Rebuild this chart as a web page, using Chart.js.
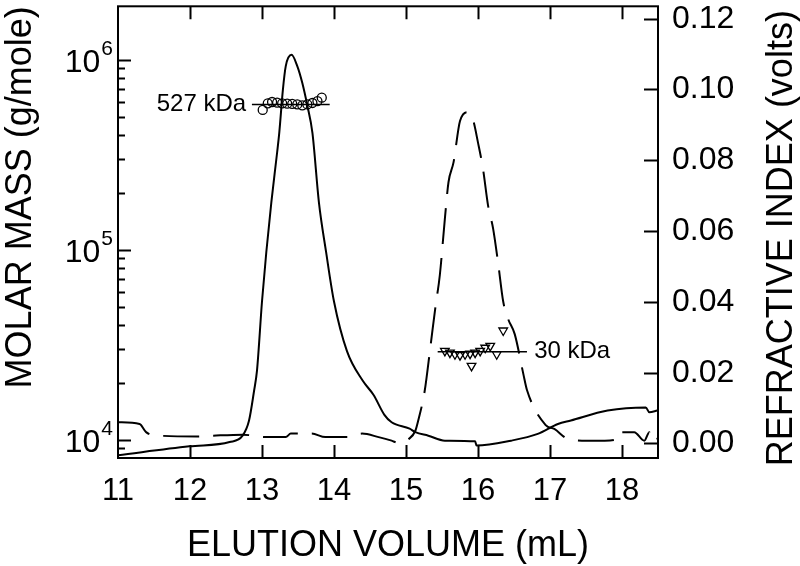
<!DOCTYPE html>
<html>
<head>
<meta charset="utf-8">
<script src="https://cdn.jsdelivr.net/npm/chart.js@4.4.1/dist/chart.umd.min.js"></script>
<style>
  html, body { margin: 0; padding: 0; background: #fff; }
  #wrap { width: 800px; height: 566px; }
</style>
</head>
<body>
<div id="wrap"><canvas id="secChart" width="800" height="566"></canvas></div>
<script>
// refractive index traces (volts) vs elution volume (mL)
const solidVolume = [11.00, 11.99, 12.55, 12.73, 12.82, 12.89, 12.93, 13.00, 13.06, 13.13, 13.21, 13.24, 13.29, 13.33, 13.41,
    13.49, 13.56, 13.63, 13.70, 13.79, 13.89, 14.00, 14.18, 14.40, 14.55, 14.70, 14.80, 15.05, 15.13, 15.31, 15.54,
    15.96, 15.98, 16.46, 16.83, 17.11, 17.29, 17.80, 18.33, 18.38, 18.49];
const solidRI = [-0.0033, -0.0008, 0.0004, 0.0022, 0.0065, 0.0149, 0.0205, 0.0401, 0.0541, 0.0682, 0.0822, 0.0878, 0.0999, 0.1066, 0.1098,
    0.1066, 0.1018, 0.0954, 0.0878, 0.0682, 0.0541, 0.0401, 0.0261, 0.0177, 0.0137, 0.0081, 0.0060, 0.0042, 0.0032, 0.0022, 0.0008,
    0.0006, -0.0006, 0.0008, 0.0027, 0.0055, 0.0065, 0.0093, 0.0102, 0.0088, 0.0093];

const dashVolume = [11.00, 11.30, 11.39, 11.58, 12.10, 12.31, 12.73, 13.05, 13.33, 13.40, 13.69, 13.88, 14.20, 14.39, 14.62,
    14.80, 14.90, 15.04, 15.13, 15.17, 15.26, 15.34, 15.41, 15.47, 15.54, 15.59, 15.66, 15.75, 15.86, 15.93, 16.00,
    16.07, 16.14, 16.21, 16.28, 16.35, 16.42, 16.51, 16.63, 16.68, 16.94, 17.06, 17.25, 17.52, 17.76, 17.94, 17.96,
    18.17, 18.31, 18.38, 18.40, 18.50];
const dashRI = [0.0060, 0.0055, 0.0032, 0.0022, 0.0020, 0.0022, 0.0025, 0.0018, 0.0018, 0.0028, 0.0028, 0.0018, 0.0018, 0.0028, 0.0018,
    0.0008, 0.0001, 0.0013, 0.0036, 0.0065, 0.0149, 0.0275, 0.0387, 0.0476, 0.0635, 0.0738, 0.0794, 0.0911, 0.0936, 0.0915, 0.0850,
    0.0775, 0.0672, 0.0607, 0.0509, 0.0401, 0.0351, 0.0309, 0.0196, 0.0151, 0.0052, 0.0041, 0.0013, 0.0008, 0.0008, 0.0013, 0.0032,
    0.0032, 0.0008, 0.0032, 0.0008, 0.0014];

// molar mass points (g/mole)
const bigVolume = [13.01, 13.08, 13.14, 13.21, 13.28, 13.35, 13.42, 13.49, 13.56, 13.63, 13.70, 13.77, 13.83];
const bigMass = [544000, 589000, 599000, 594000, 589000, 587000, 585000, 582000, 575000, 582000, 592000, 606000, 631000];
const smallVolume = [15.54, 15.61, 15.68, 15.75, 15.82, 15.89, 15.91, 15.96, 16.03, 16.10, 16.17, 16.26, 16.35];
const smallMass = [29350, 28750, 28200, 27870, 28200, 28400, 24500, 28750, 29350, 30500, 31200, 28200, 37600];

// average lines through each set
const bigFitVolume = [12.86, 13.94];
const bigFitMass = [582000, 582000];
const smallFitVolume = [15.44, 16.68];
const smallFitMass = [29100, 29100];

const bigLabel = '527 kDa';
const smallLabel = '30 kDa';

const xTicks = [11, 12, 13, 14, 15, 16, 17, 18];
const riTicks = [0, 0.02, 0.04, 0.06, 0.08, 0.10, 0.12];
const massDecades = [4, 5, 6];

const FONT = '"Liberation Sans", Arial, Helvetica, sans-serif';

function pairs(xs, ys) {
    return xs.map((x, i) => ({ x: x, y: ys[i] }));
}

// inward tick marks, frame, log labels with superscripts, right title, kDa notes
const decorPlugin = {
    id: 'decor',
    afterDraw(chart) {
        const ctx = chart.ctx;
        const area = chart.chartArea;
        const xs = chart.scales.x;
        const ym = chart.scales.y;
        const yr = chart.scales.y2;
        ctx.save();
        ctx.strokeStyle = '#000';
        ctx.lineWidth = 2;
        ctx.strokeRect(area.left, area.top, area.right - area.left, area.bottom - area.top);

        ctx.beginPath();
        xTicks.forEach(v => {
            const px = Math.round(xs.getPixelForValue(v)) + 0.5;
            if (px <= area.left + 1) return;
            ctx.moveTo(px, area.bottom);
            ctx.lineTo(px, area.bottom - 13);
            ctx.moveTo(px, area.top);
            ctx.lineTo(px, area.top + 13);
        });
        riTicks.forEach(v => {
            const py = Math.round(yr.getPixelForValue(v)) + 0.5;
            ctx.moveTo(area.right, py);
            ctx.lineTo(area.right - 14, py);
        });
        for (let e = 3; e <= 6; e++) {
            for (let m = 1; m <= 9; m++) {
                const v = m * Math.pow(10, e);
                if (v < ym.min || v > ym.max) continue;
                const py = Math.round(ym.getPixelForValue(v)) + 0.5;
                ctx.moveTo(area.left, py);
                ctx.lineTo(area.left + (m === 1 ? 13 : 7), py);
            }
        }
        ctx.stroke();

        // left tick labels 10^n
        ctx.fillStyle = '#000';
        ctx.textBaseline = 'alphabetic';
        ctx.textAlign = 'left';
        massDecades.forEach(e => {
            const py = ym.getPixelForValue(Math.pow(10, e));
            ctx.font = '32px ' + FONT;
            const w10 = ctx.measureText('10').width;
            ctx.font = '21px ' + FONT;
            const wSup = ctx.measureText(String(e)).width;
            const x0 = area.left - 6 - wSup - w10;
            ctx.font = '32px ' + FONT;
            ctx.fillText('10', x0, py + 12);
            ctx.font = '21px ' + FONT;
            ctx.fillText(String(e), x0 + w10 + 1, py - 5);
        });

        // right axis title, reading bottom to top
        ctx.font = '36px ' + FONT;
        ctx.textAlign = 'center';
        ctx.textBaseline = 'middle';
        ctx.translate(782, (area.top + area.bottom) / 2 + 6);
        ctx.rotate(-Math.PI / 2);
        ctx.fillText('REFRACTIVE INDEX (volts)', 0, 0);
        ctx.setTransform(1, 0, 0, 1, 0, 0);

        // molar mass notes
        ctx.font = '24px ' + FONT;
        ctx.textBaseline = 'middle';
        ctx.textAlign = 'right';
        ctx.fillText(bigLabel, xs.getPixelForValue(12.78), ym.getPixelForValue(bigFitMass[0]));
        ctx.textAlign = 'left';
        ctx.fillText(smallLabel, xs.getPixelForValue(16.78), ym.getPixelForValue(smallFitMass[0]));
        ctx.restore();
    }
};

const ctx = document.getElementById('secChart').getContext('2d');

const chart = new Chart(ctx, {
    type: 'line',
    data: {
        datasets: [
            {
                label: 'RI solid',
                data: pairs(solidVolume, solidRI),
                yAxisID: 'y2',
                borderColor: '#000',
                borderWidth: 2,
                pointRadius: 0,
                fill: false,
                cubicInterpolationMode: 'monotone'
            },
            {
                label: 'RI dashed',
                data: pairs(dashVolume, dashRI),
                yAxisID: 'y2',
                borderColor: '#000',
                borderWidth: 2,
                borderDash: [36, 14],
                pointRadius: 0,
                fill: false,
                cubicInterpolationMode: 'monotone'
            },
            {
                label: 'mass fit big',
                data: pairs(bigFitVolume, bigFitMass),
                yAxisID: 'y',
                borderColor: '#000',
                borderWidth: 1.5,
                pointRadius: 0
            },
            {
                label: 'mass fit small',
                data: pairs(smallFitVolume, smallFitMass),
                yAxisID: 'y',
                borderColor: '#000',
                borderWidth: 1.5,
                pointRadius: 0
            },
            {
                label: 'mass big',
                data: pairs(bigVolume, bigMass),
                yAxisID: 'y',
                showLine: false,
                pointStyle: 'circle',
                pointRadius: 4.5,
                pointBorderWidth: 1.3,
                pointBorderColor: '#000',
                pointBackgroundColor: 'rgba(255,255,255,0)'
            },
            {
                label: 'mass small',
                data: pairs(smallVolume, smallMass),
                yAxisID: 'y',
                showLine: false,
                pointStyle: 'triangle',
                rotation: 180,
                pointRadius: 5,
                pointBorderWidth: 1.3,
                pointBorderColor: '#000',
                pointBackgroundColor: 'rgba(255,255,255,0)'
            }
        ]
    },
    options: {
        responsive: false,
        animation: false,
        events: [],
        layout: { padding: { top: 3, left: 0, right: 0, bottom: 0 } },
        plugins: {
            legend: { display: false },
            tooltip: { enabled: false }
        },
        scales: {
            x: {
                type: 'linear',
                position: 'bottom',
                min: 11,
                max: 18.5,
                afterFit: s => { s.height = 108; },
                afterBuildTicks: s => { s.ticks = xTicks.map(v => ({ value: v })); },
                grid: { display: false },
                border: { display: false },
                ticks: {
                    color: '#000',
                    font: { family: FONT, size: 31, lineHeight: 1 },
                    padding: 10,
                    maxRotation: 0
                },
                title: {
                    display: true,
                    text: 'ELUTION VOLUME (mL)',
                    color: '#000',
                    font: { family: FONT, size: 36, lineHeight: 1 },
                    padding: { top: 0, bottom: 2 }
                }
            },
            y: {
                type: 'logarithmic',
                position: 'left',
                min: 8020,
                max: 1910000,
                afterFit: s => { s.width = 118; },
                grid: { display: false },
                border: { display: false },
                ticks: { display: false },
                title: {
                    display: true,
                    text: 'MOLAR MASS (g/mole)',
                    align: 'end',
                    color: '#000',
                    font: { family: FONT, size: 36, lineHeight: 1 },
                    padding: { top: 3, bottom: 0 }
                }
            },
            y2: {
                type: 'linear',
                position: 'right',
                min: -0.0041,
                max: 0.1235,
                afterFit: s => { s.width = 142; },
                afterBuildTicks: s => { s.ticks = riTicks.map(v => ({ value: v })); },
                // invisible tick marks only space the labels off the frame
                grid: { display: true, drawOnChartArea: false, drawTicks: true, tickLength: 14, tickColor: 'rgba(0,0,0,0)' },
                border: { display: false },
                ticks: {
                    color: '#000',
                    // tiny line height keeps the top label from pushing the plot area down
                    font: { family: FONT, size: 32, lineHeight: 0.1 },
                    padding: 0,
                    callback: v => v.toFixed(2)
                }
            }
        }
    },
    plugins: [decorPlugin]
});
</script>
</body>
</html>
